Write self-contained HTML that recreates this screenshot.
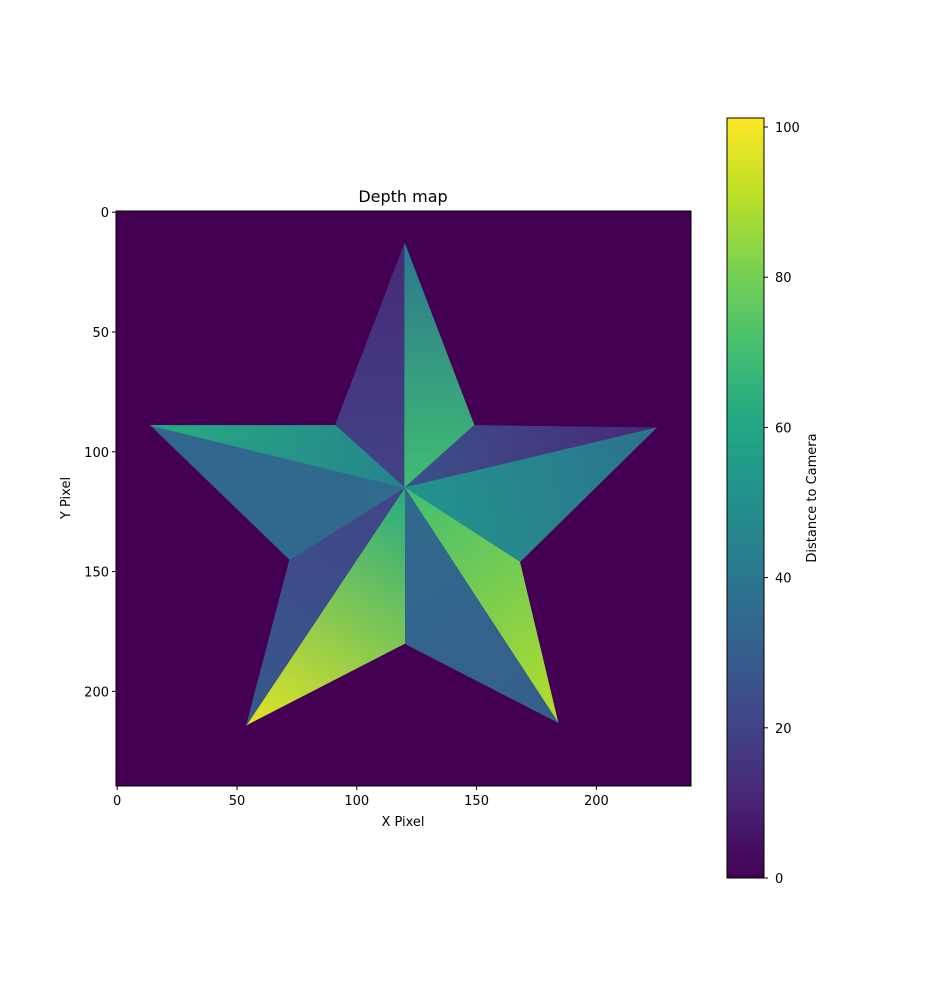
<!DOCTYPE html>
<html><head><meta charset="utf-8"><style>
body{margin:0;background:#fff;}
svg text{font-family:"DejaVu Sans","Liberation Sans",sans-serif;fill:#000;}
</style></head><body>
<svg id="chart" width="927" height="986" viewBox="0 0 927 986" xmlns="http://www.w3.org/2000/svg">
<defs id="defs"></defs>
<g id="plot"></g>
</svg>
<script>
// Star geometry (data pixel coords)
const centerPt = [120, 115];
const outerX = [120, 225, 184, 54, 14];   // top, right, bottom-right, bottom-left, left
const outerY = [13, 90, 213, 214, 89];
const innerX = [149, 168, 120, 72, 91];   // UR, LR, bottom, LL, UL
const innerY = [89, 146, 180, 145, 89];
// facet values: [value at center, value at tip]
const facetCenter = [20, 70, 25, 52, 70, 35, 62, 20, 35, 45];
const facetTip    = [12, 40, 12, 38, 90, 30, 97, 28, 33, 62];
const xTicks = [0, 50, 100, 150, 200];
const yTicks = [0, 50, 100, 150, 200];
const cbTicks = [0, 20, 40, 60, 80, 100];
const cbMax = 101.2;

const L=116, T=211, W=575, H=575, N=240;
const sx = v => L + (v + 0.5) * W / N;
const sy = v => T + (v + 0.5) * H / N;
const CBX=727, CBT=118, CBB=878, CBW=37;
const cy = v => CBB - v / cbMax * (CBB - CBT);

const vir = ["#440154","#482475","#414487","#355f8d","#2a788e","#21918c","#22a884","#44bf70","#7ad151","#bddf26","#fde725"];
function hex(h){return [1,3,5].map(i=>parseInt(h.substr(i,2),16));}
function cmap(v){let t=Math.max(0,Math.min(1,v/cbMax))*10;let i=Math.min(9,Math.floor(t));let f=t-i;
 const a=hex(vir[i]),b=hex(vir[i+1]);return "rgb("+a.map((c,k)=>Math.round(c+(b[k]-c)*f)).join(",")+")";}

const NS="http://www.w3.org/2000/svg";
const svg=document.getElementById('chart'), defs=document.getElementById('defs'), g=document.getElementById('plot');
function mk(tag,attrs,parent){const e=document.createElementNS(NS,tag);for(const k in attrs)e.setAttribute(k,attrs[k]);(parent||g).appendChild(e);return e;}

let t=mk('text',{x:403,y:202,'font-size':16,'text-anchor':'middle'});t.textContent='Depth map';


let bg=mk('rect',{x:L,y:T,width:W,height:H,fill:cmap(0)});



for(let f=0;f<10;f++){
  const o=Math.floor(f/2);
  const side=f%2;
  const ii= side===0 ? (o+4)%5 : o;
  const gid='gr'+f;
  const lg=mk('linearGradient',{id:gid,gradientUnits:'userSpaceOnUse',x1:sx(centerPt[0]),y1:sy(centerPt[1]),x2:sx(outerX[o]),y2:sy(outerY[o])},defs);
  mk('stop',{offset:0,'stop-color':cmap(facetCenter[f])},lg);
  mk('stop',{offset:1,'stop-color':cmap(facetTip[f])},lg);
  const pts=[[centerPt[0],centerPt[1]],[outerX[o],outerY[o]],[innerX[ii],innerY[ii]]].map(p=>sx(p[0])+','+sy(p[1])).join(' ');
  const p=mk('polygon',{points:pts,fill:'url(#'+gid+')',stroke:'url(#'+gid+')','stroke-width':0.6});
  
  
}
let fr=mk('rect',{x:L,y:T,width:W,height:H,fill:'none',stroke:'#000','stroke-width':1});



xTicks.forEach(v=>{const x=sx(v);mk('line',{x1:x,x2:x,y1:T+H,y2:T+H+4,stroke:'#000'});
 const e=mk('text',{x:x,y:T+H+19,'font-size':13,'text-anchor':'middle'});e.textContent=v;
 
 });
yTicks.forEach(v=>{const y=sy(v);mk('line',{x1:L-4,x2:L,y1:y,y2:y,stroke:'#000'});
 const e=mk('text',{x:L-7,y:y+5,'font-size':13,'text-anchor':'end'});e.textContent=v;
 
 });
let xl=mk('text',{x:403,y:826,'font-size':13,'text-anchor':'middle'});xl.textContent='X Pixel';


let yl=mk('text',{x:70,y:498,'font-size':13,'text-anchor':'middle',transform:'rotate(-90 70 498)'});yl.textContent='Y Pixel';



const cg=mk('linearGradient',{id:'cbg',x1:0,y1:1,x2:0,y2:0},defs);
vir.forEach((c,i)=>mk('stop',{offset:i/10,'stop-color':c},cg));
let cb=mk('rect',{x:CBX,y:CBT,width:CBW,height:CBB-CBT,fill:'url(#cbg)',stroke:'#000','stroke-width':1});


cbTicks.forEach(v=>{const y=cy(v);mk('line',{x1:CBX+CBW,x2:CBX+CBW+4,y1:y,y2:y,stroke:'#000'});
 const e=mk('text',{x:CBX+CBW+11,y:y+5,'font-size':13});e.textContent=v;
 
 });
let cl=mk('text',{x:816,y:498,'font-size':13,'text-anchor':'middle',transform:'rotate(-90 816 498)'});cl.textContent='Distance to Camera';


</script>
</body></html>
